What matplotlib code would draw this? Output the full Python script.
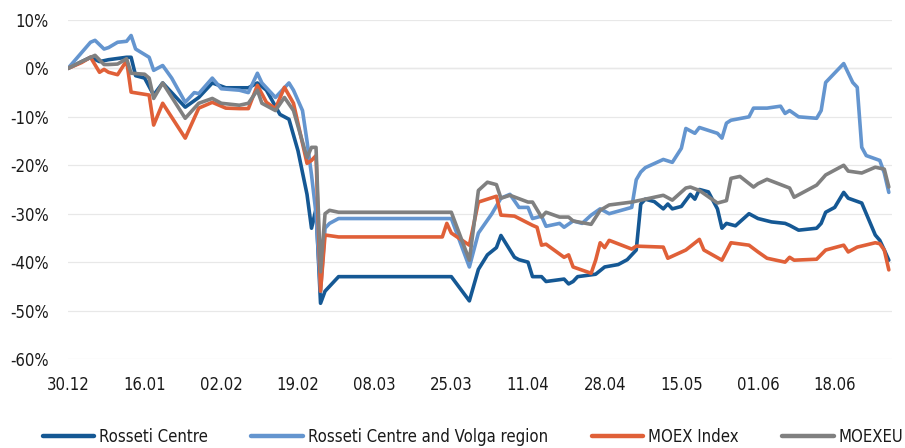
import matplotlib
matplotlib.use('Agg')
import matplotlib.pyplot as plt

plt.rcParams['font.family'] = ['DejaVu Sans']
plt.rcParams['font.stretch'] = 'condensed'

# days since 30.12.2021, values in %
rc_days = [0, 5, 7, 9, 13, 14, 15, 17, 19, 21, 26, 29, 32, 35, 40, 42, 44, 47, 49, 51,
           53, 54, 55, 56, 57, 58, 60, 85, 89, 91, 93, 95, 96, 99, 100, 102, 103, 105, 106, 110,
           111, 112, 113, 117, 119, 122, 124, 126, 127, 128, 130, 132, 133, 134, 136, 138, 139, 140, 142, 144,
           145, 146, 148, 151, 153, 156, 159, 160, 162, 166, 167, 168, 170, 172, 173, 176, 177, 179, 180, 181,
           182]
rc = [0, 2.3, 1.4, 1.8, 2.3, 2.3, -1.5, -2.0, -5.5, -3.0, -8, -6, -3, -4, -4, -3, -4.5, -9.5, -10.5, -17,
      -26, -33, -29, -48.5, -46, -45, -43, -43, -48, -41.5, -38.5, -37, -34.5, -39, -39.5, -40, -43, -43, -44, -43.5,
      -44.5, -44, -43, -42.5, -41, -40.5, -39.5, -37.5, -28, -27, -27.5, -29, -28, -29, -28.5, -26, -27, -25, -25.5, -29,
      -33, -32, -32.5, -30, -31, -31.7, -32, -32.4, -33.4, -33, -32, -29.7, -28.7, -25.6, -26.8, -27.8, -30, -34.4, -35.5, -37.5,
      -39.6]

rcv_days = [0, 5, 6, 8, 9, 11, 13, 14, 15, 18, 19, 21, 23, 26, 28, 29, 32, 34, 38, 40,
            42, 43, 46, 49, 50, 52, 53, 54, 55, 56, 57, 58, 60, 85, 89, 91, 94, 96, 98, 100,
            102, 103, 105, 106, 109, 110, 112, 114, 116, 118, 120, 125, 126, 127, 128, 132, 134, 136, 137, 139,
            140, 144, 145, 146, 147, 151, 152, 155, 158, 159, 160, 162, 166, 167, 168, 172, 174, 175, 176, 177,
            180, 181, 182]
rcv = [0, 5.4, 5.8, 4.0, 4.3, 5.4, 5.6, 6.8, 4.0, 2.3, -0.4, 0.6, -2, -7, -5, -5.2, -2, -4.2, -4.5, -5,
       -1, -3, -6, -3, -4.5, -8.7, -15, -22, -30, -46, -33, -32, -31, -31, -41, -34, -30, -26.8, -26, -28.7,
       -28.7, -31, -30.5, -32.6, -32, -32.8, -31.5, -32, -30.3, -29, -30, -28.7, -23, -21.4, -20.5, -18.8, -19.4, -16.5, -12.4, -13.4,
       -12.2, -13.4, -14.4, -11.3, -10.7, -10, -8.2, -8.2, -7.8, -9.3, -8.7, -10, -10.3, -8.7, -2.9, 1.0, -2.9, -3.9, -16.3, -18,
       -19, -21.6, -25.6]

moex_days = [0, 3, 5, 7, 8, 9, 11, 13, 14, 16, 18, 19, 21, 26, 29, 32, 35, 38, 40, 42,
             44, 46, 48, 50, 53, 54, 55, 56, 57, 60, 83, 84, 85, 89, 91, 95, 96, 99, 103, 104,
             105, 106, 110, 111, 112, 116, 117, 118, 119, 120, 125, 126, 132, 133, 137, 140, 141, 145, 147, 151,
             153, 155, 159, 160, 161, 166, 168, 172, 173, 175, 179, 180, 181, 182]
moex = [0, 1.2, 2.3, -0.8, -0.2, -0.8, -1.3, 1.6, -4.9, -5.2, -5.5, -11.7, -7.2, -14.4, -8.2, -7, -8.2, -8.3, -8.3, -3.5,
        -7, -8.3, -3.9, -7.2, -19.6, -19, -18, -46, -34.4, -34.8, -34.8, -32, -34, -36.5, -27.6, -26.4, -30.3, -30.5, -32.4, -32.8,
        -36.5, -36.3, -39, -38.5, -41, -42.3, -39.6, -36, -37, -35.5, -37.3, -36.7, -36.9, -39.2, -37.5, -35.3, -37.5, -39.6, -36, -36.5,
        -37.9, -39.2, -40, -39, -39.6, -39.4, -37.5, -36.5, -37.9, -36.9, -36, -36.2, -37.5, -41.6]

moexeu_days = [0, 3, 6, 8, 9, 11, 13, 14, 17, 18, 19, 21, 26, 29, 32, 34, 38, 40, 42, 43,
               46, 48, 50, 53, 54, 55, 56, 57, 58, 60, 85, 89, 91, 93, 95, 96, 98, 102, 103, 105,
               106, 109, 111, 112, 116, 118, 120, 125, 132, 134, 137, 138, 140, 144, 146, 147, 149, 152, 153, 155,
               160, 161, 166, 168, 172, 173, 176, 179, 181, 182]
moexeu = [0, 1.4, 2.7, 0.8, 0.8, 0.9, 2.0, -1, -1.2, -2, -6.2, -3, -10.3, -7.2, -6.2, -7.2, -7.6, -7.2, -4.5, -7.2,
          -8.7, -6, -8.7, -18.4, -16.3, -16.3, -42, -30, -29.3, -29.7, -29.7, -39.6, -25.2, -23.5, -24, -26.8, -26.2, -27.6, -27.6, -30.7,
          -29.7, -30.7, -30.7, -31.5, -32.2, -29.3, -28.2, -27.6, -26.2, -27.2, -24.7, -24.5, -25.2, -27.8, -27.3, -22.7, -22.3, -24.5, -23.8, -22.9,
          -24.7, -26.6, -24.1, -22, -20, -21.2, -21.6, -20.4, -20.8, -24.5]

x_tick_days = [0, 17, 34, 51, 68, 85, 102, 119, 136, 153, 170]
x_tick_labels = ['30.12', '16.01', '02.02', '19.02', '08.03', '25.03', '11.04', '28.04', '15.05', '01.06', '18.06']
y_ticks = [-60, -50, -40, -30, -20, -10, 0, 10]
y_tick_labels = ['-60%', '-50%', '-40%', '-30%', '-20%', '-10%', '0%', '10%']

names = ['Rosseti Centre', 'Rosseti Centre and Volga region', 'MOEX Index', 'MOEXEU']
colors = ['#155894', '#6495CF', '#E06038', '#808080']

fig = plt.figure(figsize=(9.05, 4.48), dpi=100)
ax = fig.add_axes([0.0751, 0.1987, 0.9105, 0.7567])

series = [(rc_days, rc), (rcv_days, rcv), (moex_days, moex), (moexeu_days, moexeu)]
for (d, v), name, c in zip(series, names, colors):
    ax.plot(d, v, color=c, lw=2.6, label=name, solid_joinstyle='round', solid_capstyle='round')

ax.set_xlim(0, 182.7)
ax.set_ylim(-60, 10)
ax.set_yticks(y_ticks)
ax.set_yticklabels(y_tick_labels)
ax.set_xticks(x_tick_days)
ax.set_xticklabels(x_tick_labels)
ax.grid(axis='y', color='#E8E8E8', lw=0.9)
ax.set_axisbelow(True)
ax.axhline(0, color='#D9D9D9', lw=0.9, zorder=0.5)
for s in ax.spines.values():
    s.set_visible(False)
ax.tick_params(axis='y', length=0, pad=14, labelsize=12, colors='#1a1a1a')
ax.tick_params(axis='x', length=0, pad=12, labelsize=12, colors='#1a1a1a')

fig.legend(loc='center', bbox_to_anchor=(0.5227, 0.025), ncol=4, frameon=False,
           fontsize=12, handlelength=3.1, handletextpad=0.3, columnspacing=2.6,
           labelcolor='#1a1a1a')
for lh in fig.legends[0].get_lines():
    lh.set_linewidth(3.2)

fig.savefig('out.png', dpi=100)
